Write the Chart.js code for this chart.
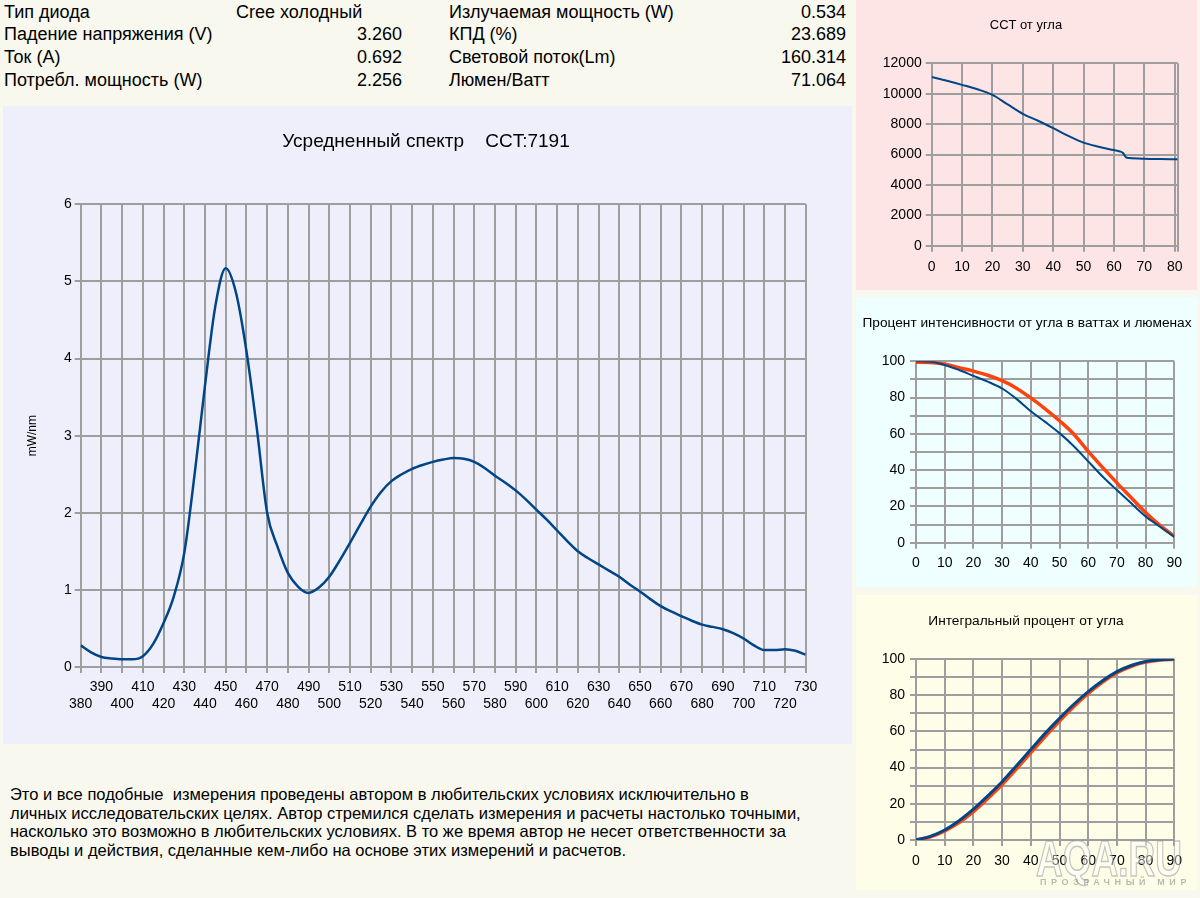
<!DOCTYPE html>
<html>
<head>
<meta charset="utf-8">
<script src="https://cdn.jsdelivr.net/npm/chart.js@4.4.0/dist/chart.umd.min.js"></script>
<style>
    body { margin: 0; width: 1200px; height: 898px; background: #f8f8ee; position: relative; overflow: hidden;
           font-family: "Liberation Sans", Arial, sans-serif; color: #000; }
    .abs { position: absolute; white-space: pre; }
    .row { font-size: 18px; line-height: 20px; }
    .num { text-align: right; }
    .title { text-align: center; }
    canvas { position: absolute; }
</style>
</head>
<body>

<!-- таблица параметров -->
<div class="abs row" style="left:4px;top:2px">Тип диода</div>
<div class="abs row" style="left:236px;top:2px">Cree холодный</div>
<div class="abs row" style="left:449px;top:2px">Излучаемая мощность (W)</div>
<div class="abs row num" style="right:354px;top:2px">0.534</div>

<div class="abs row" style="left:4px;top:24px">Падение напряжения (V)</div>
<div class="abs row num" style="right:798px;top:24px">3.260</div>
<div class="abs row" style="left:449px;top:24px">КПД (%)</div>
<div class="abs row num" style="right:354px;top:24px">23.689</div>

<div class="abs row" style="left:4px;top:47px">Ток (A)</div>
<div class="abs row num" style="right:798px;top:47px">0.692</div>
<div class="abs row" style="left:449px;top:47px">Световой поток(Lm)</div>
<div class="abs row num" style="right:354px;top:47px">160.314</div>

<div class="abs row" style="left:4px;top:70px">Потребл. мощность (W)</div>
<div class="abs row num" style="right:798px;top:70px">2.256</div>
<div class="abs row" style="left:449px;top:70px">Люмен/Ватт</div>
<div class="abs row num" style="right:354px;top:70px">71.064</div>

<!-- панели -->
<div class="abs" style="left:3px;top:106px;width:849px;height:638px;background:#efeffc"></div>
<div class="abs" style="left:856px;top:0px;width:341px;height:290px;background:#fde5e5"></div>
<div class="abs" style="left:856px;top:297px;width:341px;height:290px;background:#effefe"></div>
<div class="abs" style="left:856px;top:595px;width:341px;height:295px;background:#fefee8"></div>

<canvas id="spectrumChart" width="849" height="638" style="left:3px;top:106px;width:849px;height:638px"></canvas>
<canvas id="cctChart" width="341" height="290" style="left:856px;top:0px;width:341px;height:290px"></canvas>
<canvas id="intensityChart" width="341" height="290" style="left:856px;top:297px;width:341px;height:290px"></canvas>
<canvas id="integralChart" width="341" height="295" style="left:856px;top:595px;width:341px;height:295px"></canvas>

<!-- заголовки графиков -->
<div class="abs title" style="left:226px;width:400px;top:129px;font-size:19px;line-height:24px">Усредненный спектр    CCT:7191</div>
<div class="abs title" style="left:876px;width:300px;top:16px;font-size:13px;line-height:18px">CCT от угла</div>
<div class="abs title" style="left:847px;width:360px;top:314px;font-size:13.7px;line-height:18px">Процент интенсивности от угла в ваттах и люменах</div>
<div class="abs title" style="left:876px;width:300px;top:612px;font-size:13.7px;line-height:18px">Интегральный процент от угла</div>

<!-- примечание -->
<div class="abs" style="left:10px;top:785px;font-size:16.5px;line-height:18.7px">Это и все подобные  измерения проведены автором в любительских условиях исключительно в
личных исследовательских целях. Автор стремился сделать измерения и расчеты настолько точными,
насколько это возможно в любительских условиях. В то же время автор не несет ответственности за
выводы и действия, сделанные кем-либо на основе этих измерений и расчетов.</div>

<!-- водяной знак -->
<div class="abs" style="left:1036px;top:830px;font:bold 50px 'Liberation Sans',Arial,sans-serif;color:rgba(255,255,255,0.45);-webkit-text-stroke:1.5px rgba(150,150,150,0.55);transform:scaleX(0.74);transform-origin:left top">AQA.RU</div>
<div class="abs" style="left:1040px;top:877px;font:bold 9px 'Liberation Sans',Arial,sans-serif;letter-spacing:4.6px;color:rgba(140,140,140,0.6)">ПРОЗРАЧНЫЙ МИР</div>

<script>
// ---- данные: усредненный спектр ----
const wavelengths = [380, 385, 390, 395, 400, 405, 410, 415, 420, 425, 430, 435, 440, 445, 450, 455, 460, 465, 470, 475,
    480, 485, 490, 495, 500, 505, 510, 515, 520, 525, 530, 535, 540, 545, 550, 555, 560, 565, 570, 575,
    580, 585, 590, 595, 600, 605, 610, 615, 620, 625, 630, 635, 640, 645, 650, 655, 660, 665, 670, 675,
    680, 685, 690, 695, 700, 705, 710, 715, 720, 725, 730];
const spectrum = [0.28, 0.19, 0.13, 0.11, 0.10, 0.10, 0.14, 0.30, 0.57, 0.92, 1.48, 2.50, 3.65, 4.68, 5.17, 4.85, 4.10, 3.10, 2.00, 1.56,
    1.22, 1.04, 0.96, 1.03, 1.17, 1.38, 1.61, 1.85, 2.08, 2.27, 2.41, 2.50, 2.57, 2.62, 2.66, 2.69, 2.71, 2.70, 2.66, 2.58,
    2.48, 2.39, 2.29, 2.17, 2.04, 1.91, 1.77, 1.63, 1.50, 1.41, 1.33, 1.25, 1.17, 1.07, 0.98, 0.88, 0.79, 0.72, 0.66, 0.60,
    0.55, 0.52, 0.49, 0.44, 0.37, 0.28, 0.22, 0.22, 0.23, 0.21, 0.16];
const spectrumXTicks = [380, 390, 400, 410, 420, 430, 440, 450, 460, 470, 480, 490, 500, 510, 520, 530, 540, 550,
    560, 570, 580, 590, 600, 610, 620, 630, 640, 650, 660, 670, 680, 690, 700, 710, 720, 730];
const spectrumYTicks = [0, 1, 2, 3, 4, 5, 6];

// ---- данные: CCT от угла ----
const cctAngles = [0, 5, 10, 15, 20, 25, 30, 35, 40, 45, 50, 55, 60, 62, 63, 64, 65, 70, 75, 81];
const cctValues = [11100, 10850, 10580, 10290, 9920, 9300, 8680, 8220, 7730, 7220, 6780, 6510, 6290, 6200, 6100, 5810, 5770, 5720, 5700, 5690];
const cctXTicks = [0, 10, 20, 30, 40, 50, 60, 70, 80, 81];
const cctYTicks = [0, 2000, 4000, 6000, 8000, 10000, 12000];

// ---- данные: процент интенсивности ----
const angles = [0, 5, 10, 15, 20, 25, 30, 35, 40, 45, 50, 55, 60, 65, 70, 75, 80, 85, 90];
const intensityWatt = [100, 99.8, 98, 95.2, 92, 88.8, 85, 79.3, 72.5, 66.6, 60.4, 53.2, 44.8, 36.5, 29, 21.7, 14.5, 8.8, 3.2];
const intensityLumen = [99.5, 99.4, 98.4, 96.5, 94.6, 92.3, 89.3, 85.2, 79.8, 73.8, 67.2, 59.8, 50.3, 41.5, 33, 24.8, 16.6, 9.6, 3.6];

// ---- данные: интегральный процент ----
const integralWatt = [0, 2, 5.5, 10.6, 17, 24.4, 32.2, 41, 50, 58.9, 67.2, 75, 82, 88, 93, 96.4, 98.6, 99.6, 100];
const integralLumen = [0, 1.7, 5, 9.6, 15.6, 22.9, 30.6, 39.3, 48.3, 57.2, 65.7, 73.8, 81, 87.3, 92.4, 96, 98.3, 99.5, 99.8];

const angleTicks = [0, 10, 20, 30, 40, 50, 60, 70, 80, 90];
const percentTicks = [0, 10, 20, 30, 40, 50, 60, 70, 80, 90, 100];

const blue = '#004586';
const orange = '#ff420e';
const gridColor = '#9e9e9e';

Chart.defaults.font.family = "'Liberation Sans', Arial, sans-serif";
Chart.defaults.color = '#000';
Chart.defaults.animation = false;

function points(xs, ys) {
    return xs.map((x, i) => ({ x: x, y: ys[i] }));
}

function fixedTicks(values) {
    return scale => { scale.ticks = values.map(v => ({ value: v })); };
}

// общая настройка оси; extra может переопределить ticks частично
function axis(min, max, tickValues, extra) {
    const extraTicks = (extra && extra.ticks) || {};
    const opts = Object.assign({
        type: 'linear',
        min: min,
        max: max,
        afterBuildTicks: fixedTicks(tickValues),
        grid: { color: gridColor, lineWidth: 2, tickLength: 6, tickColor: gridColor },
        border: { color: gridColor, width: 2 }
    }, extra || {});
    opts.ticks = Object.assign({
        font: { size: 14 },
        autoSkip: false,
        maxRotation: 0,
        minRotation: 0,
        callback: v => String(v)
    }, extraTicks);
    return opts;
}

function lineDataset(label, data, color, width) {
    return {
        label: label,
        data: data,
        borderColor: color,
        backgroundColor: color,
        borderWidth: width,
        pointRadius: 0,
        cubicInterpolationMode: 'monotone',
        fill: false
    };
}

const evenStep20 = v => (v % 20 === 0 ? String(v) : '');

// ===========================================
// Усредненный спектр
// ===========================================
new Chart(document.getElementById('spectrumChart'), {
    type: 'line',
    data: { datasets: [lineDataset('mW/nm', points(wavelengths, spectrum), blue, 2.5)] },
    options: {
        responsive: false,
        layout: { padding: { left: 22.8, right: 46.3, top: 98.3, bottom: 0 } },
        plugins: { legend: { display: false }, tooltip: { enabled: false } },
        scales: {
            x: axis(380, 730, spectrumXTicks, {
                afterFit: s => { s.height = 77; },
                ticks: {
                    padding: 6,
                    callback: function (value) {
                        const idx = Math.round((value - 380) / 10);
                        return idx % 2 === 0 ? ['', String(value)] : [String(value), ''];
                    }
                }
            }),
            y: axis(0, 6, spectrumYTicks, {
                afterFit: s => { s.width = 54.9; },
                title: { display: true, text: 'mW/nm', font: { size: 12 }, padding: 0 },
                ticks: { padding: 3 }
            })
        }
    }
});

// ===========================================
// CCT от угла
// ===========================================
new Chart(document.getElementById('cctChart'), {
    type: 'line',
    data: { datasets: [lineDataset('CCT', points(cctAngles, cctValues), blue, 2)] },
    options: {
        responsive: false,
        layout: { padding: { left: 0, right: 19.3, top: 63.3, bottom: 0 } },
        plugins: { legend: { display: false }, tooltip: { enabled: false } },
        scales: {
            x: axis(0, 81, cctXTicks, {
                afterFit: s => { s.height = 44.3; },
                ticks: { padding: 6.6, callback: v => (v % 10 === 0 ? String(v) : '') }
            }),
            y: axis(0, 12000, cctYTicks, {
                afterFit: s => { s.width = 75.7; },
                ticks: { padding: 4 }
            })
        }
    }
});

// ===========================================
// Процент интенсивности от угла
// ===========================================
new Chart(document.getElementById('intensityChart'), {
    type: 'line',
    data: {
        datasets: [
            lineDataset('Ватт', points(angles, intensityWatt), blue, 2),
            lineDataset('Люмен', points(angles, intensityLumen), orange, 3.5)
        ]
    },
    options: {
        responsive: false,
        layout: { padding: { left: 0, right: 22.7, top: 64.3, bottom: 0 } },
        plugins: { legend: { display: false }, tooltip: { enabled: false } },
        scales: {
            x: axis(0, 90, angleTicks, {
                afterFit: s => { s.height = 44.3; },
                ticks: { padding: 6.2 }
            }),
            y: axis(0, 100, percentTicks, {
                afterFit: s => { s.width = 60; },
                ticks: { padding: 5, callback: evenStep20 }
            })
        }
    }
});

// ===========================================
// Интегральный процент от угла
// ===========================================
new Chart(document.getElementById('integralChart'), {
    type: 'line',
    data: {
        datasets: [
            lineDataset('Ватт', points(angles, integralWatt), blue, 3),
            lineDataset('Люмен', points(angles, integralLumen), orange, 3.5)
        ]
    },
    options: {
        responsive: false,
        layout: { padding: { left: 0, right: 22.7, top: 64, bottom: 0 } },
        plugins: { legend: { display: false }, tooltip: { enabled: false } },
        scales: {
            x: axis(0, 90, angleTicks, {
                afterFit: s => { s.height = 50; },
                ticks: { padding: 6.3 }
            }),
            y: axis(0, 100, percentTicks, {
                afterFit: s => { s.width = 60; },
                ticks: { padding: 5, callback: evenStep20 }
            })
        }
    }
});
</script>
</body>
</html>
